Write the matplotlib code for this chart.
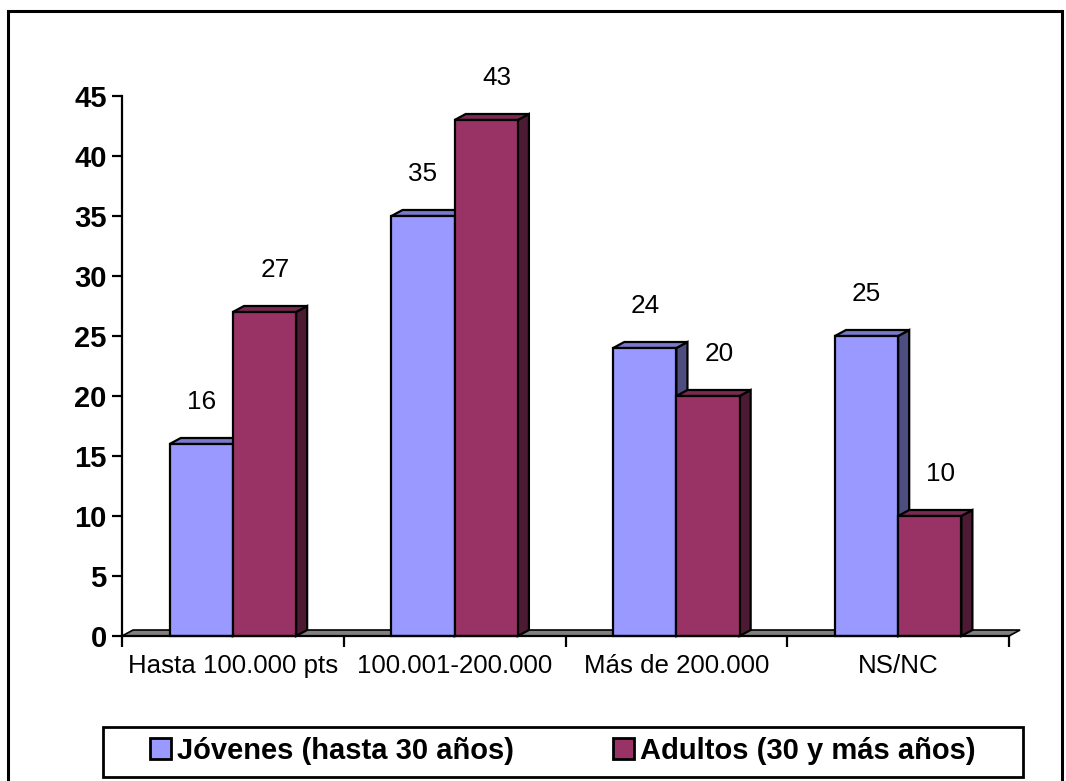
import matplotlib.pyplot as plt
from matplotlib.patches import Polygon, Patch, Rectangle

plt.rcParams['font.family'] = ['Liberation Sans', 'DejaVu Sans']

categorias = ['Hasta 100.000 pts', '100.001-200.000', 'Más de 200.000', 'NS/NC']
jovenes = [16, 35, 24, 25]
adultos = [27, 43, 20, 10]
series = ['Jóvenes (hasta 30 años)', 'Adultos (30 y más años)']

# front / top / side colours for each series
colores = [('#9999FF', '#7A7ACC', '#4D4D80'),
           ('#993366', '#7A2952', '#4D1A33')]

W, H = 1066, 781
fig = plt.figure(figsize=(W / 100, H / 100), dpi=100)
ax = fig.add_axes([122 / W, 1 - 636 / H, (1009 - 122) / W, 540 / H])
ax.set_xlim(-0.5, len(categorias) - 0.5)
ax.set_ylim(0, 45)

ancho = 0.285
dx, dy = 0.05, 0.5   # depth offset of the 3d effect
desplaz = [0.0, 0.05]  # label shift, Excel puts the second series labels a bit right


def caja(x0, x1, v, cols):
    lados = [
        [(x1, 0), (x1 + dx, dy), (x1 + dx, v + dy), (x1, v)],
        [(x0, v), (x0 + dx, v + dy), (x1 + dx, v + dy), (x1, v)],
        [(x0, 0), (x1, 0), (x1, v), (x0, v)],
    ]
    for pts, c in zip(lados, [cols[2], cols[1], cols[0]]):
        ax.add_patch(Polygon(pts, closed=True, facecolor=c, edgecolor='black',
                             linewidth=1.6, clip_on=False, joinstyle='miter'))


# floor
x_a, x_b = -0.5, len(categorias) - 0.5
ax.add_patch(Polygon([(x_a, 0), (x_b, 0), (x_b + dx, dy), (x_a + dx, dy)],
                     closed=True, facecolor='#808080', edgecolor='black',
                     linewidth=1.2, clip_on=False))

for i in range(len(categorias)):
    for k, vals in enumerate([jovenes, adultos]):
        x0 = i - ancho + k * ancho
        x1 = x0 + ancho
        caja(x0, x1, vals[i], colores[k])
        ax.text((x0 + x1) / 2 + desplaz[k], vals[i] + 3.5, str(vals[i]),
                ha='center', va='center', fontsize=18.8)

# axes styling
for s in ['top', 'right']:
    ax.spines[s].set_visible(False)
ax.spines['left'].set_linewidth(1.6)
ax.spines['bottom'].set_linewidth(1.6)
ax.set_yticks(range(0, 46, 5))
ax.tick_params(axis='y', length=7, width=1.6, pad=4, labelsize=21)
for t in ax.get_yticklabels():
    t.set_fontweight('bold')
ax.set_xticks(range(len(categorias)))
ax.set_xticklabels(categorias)
ax.tick_params(axis='x', which='major', length=0, pad=13, labelsize=18.6)
ax.set_xticks([x - 0.5 for x in range(len(categorias) + 1)], minor=True)
ax.tick_params(axis='x', which='minor', length=8, width=1.6)
ax.patch.set_visible(False)

# legend box
fig.patches.append(Rectangle((103 / W, 1 - 777 / H), 920 / W, 50 / H,
                             transform=fig.transFigure, fill=False,
                             edgecolor='black', linewidth=2))
handles = [Patch(facecolor=colores[k][0], edgecolor='black', linewidth=2)
           for k in range(2)]
fig.legend(handles, series, loc='center', ncol=2, frameon=False,
           bbox_to_anchor=(563 / W, 1 - 751 / H),
           prop={'weight': 'bold', 'size': 21},
           handlelength=0.72, handleheight=0.72, handletextpad=0.2,
           columnspacing=3.4, borderpad=0, borderaxespad=0)

# outer border of the chart
fig.patches.append(Rectangle((8 / W, -0.02), (1062 - 8) / W, 1.02 - 11 / H,
                             transform=fig.transFigure, fill=False,
                             edgecolor='black', linewidth=2.2))

fig.savefig('out.png', dpi=100)
